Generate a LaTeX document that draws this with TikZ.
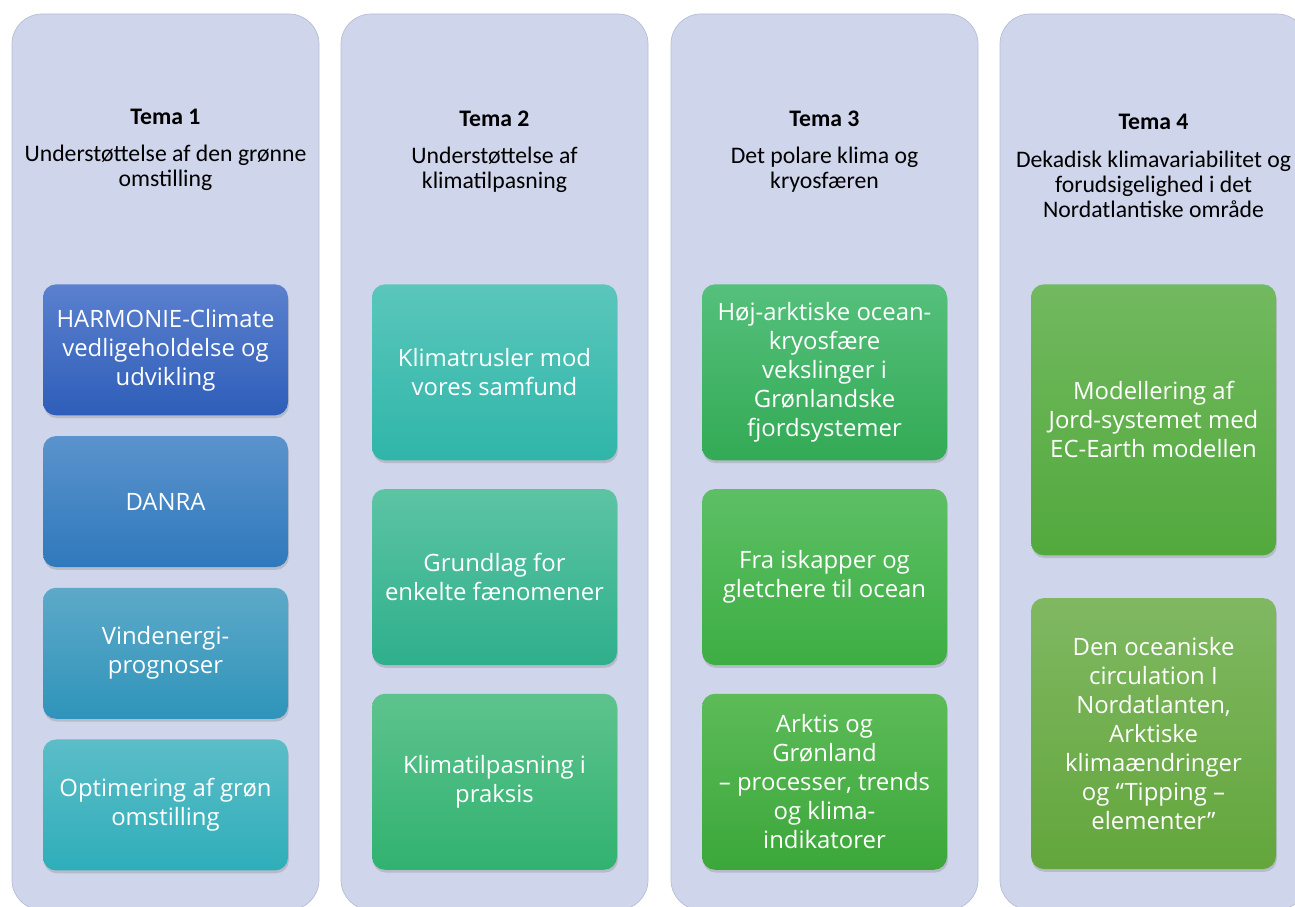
\documentclass[tikz,border=0pt]{standalone}
\usepackage{fontspec}
\setmainfont{Carlito}
\newfontfamily\boxfont{Open Sans}
\usetikzlibrary{positioning,shadows,backgrounds}
\definecolor{BandFill}{HTML}{CFD5EA}
\definecolor{BandBord}{HTML}{B7BDD3}
\definecolor{OneATop}{HTML}{5B80CE}\definecolor{OneABot}{HTML}{2E5EB9}
\definecolor{OneBTop}{HTML}{5B93CC}\definecolor{OneBBot}{HTML}{2F79BC}
\definecolor{OneCTop}{HTML}{5DA9C8}\definecolor{OneCBot}{HTML}{2F94BA}
\definecolor{OneDTop}{HTML}{5CBDC8}\definecolor{OneDBot}{HTML}{2EAEB9}
\definecolor{TwoATop}{HTML}{5BC6BB}\definecolor{TwoABot}{HTML}{2FB6A9}
\definecolor{TwoBTop}{HTML}{5CC4A3}\definecolor{TwoBBot}{HTML}{2FAF8C}
\definecolor{TwoCTop}{HTML}{5EC38E}\definecolor{TwoCBot}{HTML}{31B270}
\definecolor{ThrATop}{HTML}{55C07C}\definecolor{ThrABot}{HTML}{33AA55}
\definecolor{ThrBTop}{HTML}{5DBF65}\definecolor{ThrBBot}{HTML}{3DAE43}
\definecolor{ThrCTop}{HTML}{5DBB58}\definecolor{ThrCBot}{HTML}{3BA73A}
\definecolor{FouATop}{HTML}{72B95F}\definecolor{FouABot}{HTML}{52A93D}
\definecolor{FouBTop}{HTML}{80B862}\definecolor{FouBBot}{HTML}{63A63C}
\tikzset{
  every picture/.append style={font=\fontsize{13.5}{14.3}\selectfont},
  band/.style={rectangle, rounded corners=0.6cm, draw=BandBord, line width=0.4pt,
               fill=BandFill, minimum width=6.14cm, minimum height=17.92cm},
  ttl/.style={font=\fontsize{13.5}{14.3}\selectfont\bfseries, inner sep=0pt},
  sub/.style={align=center, inner sep=0pt, font=\fontsize{13.5}{14.3}\selectfont},
  tile/.style 2 args={rectangle, rounded corners=0.26cm, top color=#1, bottom color=#2,
               draw=none, text=white, align=center, minimum width=4.9cm, inner sep=2pt,
               font=\boxfont\fontsize{13.6}{16.5}\selectfont,
               drop shadow={shadow xshift=0.5pt, shadow yshift=-1.6pt, opacity=0.3}},
}

\begin{document}
\begin{tikzpicture}[x=1cm,y=1cm,
  sm/.style={minimum height=2.62cm},
  md/.style={minimum height=3.52cm},
  lg/.style={minimum height=5.42cm},
]
\clip (0,0) rectangle (25.9,18.12);

% column centres: 4 columns, 6.14 cm wide, 0.44 cm gutters
\def\cA{3.31}\def\cB{9.89}\def\cC{16.49}\def\cD{23.07}

% ======================= column backdrops ===========================================
\begin{scope}[on background layer]
  \node[band] (GA) at (\cA,8.88) {};
  \node[band] (GB) at (\cB,8.88) {};
  \node[band] (GC) at (\cC,8.88) {};
  \node[band] (GD) at (\cD,8.88) {};
\end{scope}

% ======================= headings ===================================================
\node[ttl] (tA) at (\cA,15.79) {Tema 1};
\node[sub] (sA) at (\cA,14.76) {Understøttelse af den grønne\\omstilling};
\node[ttl] (tB) at (\cB,15.74) {Tema 2};
\node[sub] (sB) at (\cB,14.72) {Understøttelse af\\klimatilpasning};
\node[ttl] (tC) at (\cC,15.74) {Tema 3};
\node[sub] (sC) at (\cC,14.72) {Det polare klima og\\kryosfæren};
\node[ttl] (tD) at (\cD,15.69) {Tema 4};
\node[sub] (sD) at (\cD,14.44) {Dekadisk klimavariabilitet og\\forudsigelighed i det\\Nordatlantiske område};

% ======================= column 1: green transition =================================
\node[tile={OneATop}{OneABot}, sm, anchor=north] (a1) at (\cA,12.44)
  {HARMONIE-Climate\\vedligeholdelse og\\udvikling};
\node[tile={OneBTop}{OneBBot}, sm, below=0.4cm of a1] (a2) {DANRA};
\node[tile={OneCTop}{OneCBot}, sm, below=0.4cm of a2] (a3) {Vindenergi-\\prognoser};
\node[tile={OneDTop}{OneDBot}, sm, below=0.4cm of a3] (a4) {Optimering af grøn\\omstilling};

% ======================= column 2: adaptation =======================================
\node[tile={TwoATop}{TwoABot}, md, anchor=north] (b1) at (\cB,12.44)
  {Klimatrusler mod\\vores samfund};
\node[tile={TwoBTop}{TwoBBot}, md, below=0.56cm of b1] (b2) {Grundlag for\\enkelte fænomener};
\node[tile={TwoCTop}{TwoCBot}, md, below=0.56cm of b2] (b3) {Klimatilpasning i\\praksis};

% ======================= column 3: polar climate ====================================
\node[tile={ThrATop}{ThrABot}, md, anchor=north] (c1) at (\cC,12.44)
  {Høj-arktiske ocean-\\kryosfære\\vekslinger i\\Grønlandske\\fjordsystemer};
\node[tile={ThrBTop}{ThrBBot}, md, below=0.56cm of c1] (c2) {Fra iskapper og\\gletchere til ocean};
\node[tile={ThrCTop}{ThrCBot}, md, below=0.56cm of c2] (c3)
  {Arktis og\\Grønland\\– processer, trends\\og klima-\\indikatorer};

% ======================= column 4: decadal variability ==============================
\node[tile={FouATop}{FouABot}, lg, anchor=north] (d1) at (\cD,12.44)
  {Modellering af\\Jord-systemet med\\EC-Earth modellen};
\node[tile={FouBTop}{FouBBot}, lg, below=0.84cm of d1] (d2)
  {Den oceaniske\\circulation I\\Nordatlanten,\\Arktiske\\klimaændringer\\og “Tipping –\\elementer”};

\end{tikzpicture}
\end{document}
